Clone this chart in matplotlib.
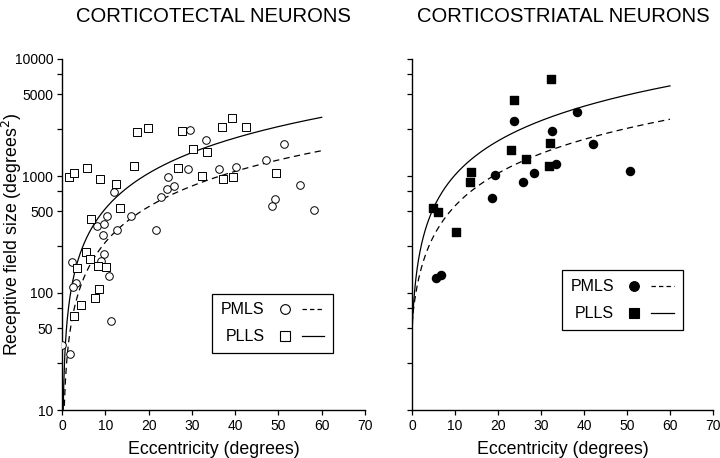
"""Receptive field size vs eccentricity, corticotectal / corticostriatal neurons."""

import matplotlib
matplotlib.use("Agg")
import matplotlib.pyplot as plt
import numpy as np
from matplotlib.legend_handler import HandlerTuple
from matplotlib.lines import Line2D
from matplotlib.ticker import FixedLocator, NullFormatter, FixedFormatter

plt.rcParams["font.family"] = ["Liberation Sans", "DejaVu Sans"]
NARROW = ["Liberation Sans Narrow", "Liberation Sans", "DejaVu Sans"]

# corticotectal, PMLS (open circles)
ct_pmls_x = [12.0, 24.6, 24.2, 25.9, 22.9, 10.5, 16.0, 8.0, 9.6, 9.5, 12.6, 21.7, 9.6, 9.0, 2.3, 10.8,
             3.2, 2.5, 11.3, 0.1, 1.9, 29.5, 33.2, 29.0, 36.3, 40.2, 47.1, 51.3, 54.9, 49.3, 48.4, 58.2]
ct_pmls_y = [726, 975, 769, 816, 665, 453, 453, 374, 389, 311, 345, 345, 215, 188, 184, 140,
             122, 113, 58, 36, 30, 2490, 2032, 1156, 1141, 1186, 1362, 1866, 838, 636, 557, 515]
# corticotectal, PLLS (open squares)
ct_plls_x = [1.7, 2.7, 5.8, 8.7, 12.5, 17.3, 19.8, 16.7, 27.7, 26.9, 13.3, 6.6, 5.6, 6.5, 3.5,
             8.3, 10.2, 8.6, 7.7, 4.5, 2.7, 37.0, 39.2, 42.6, 30.3, 33.4, 32.4, 37.1, 39.5, 49.5]
ct_plls_y = [986, 1054, 1178, 937, 855, 2366, 2572, 1216, 2411, 1178, 531, 428, 223, 194, 163,
             171, 167, 108, 91, 79, 64, 2637, 3133, 2609, 1703, 1596, 1007, 937, 976, 1067]

# corticostriatal, PMLS (filled circles)
cs_pmls_x = [23.7, 32.6, 19.3, 18.7, 25.8, 28.3, 33.5, 5.6, 6.8, 38.4, 42.0, 50.8]
cs_pmls_y = [2951, 2411, 1026, 653, 883, 1062, 1259, 134, 143, 3500, 1888, 1096]
# corticostriatal, PLLS (filled squares)
cs_plls_x = [23.7, 32.3, 13.8, 13.6, 23.1, 26.4, 32.2, 31.8, 4.9, 6.1, 10.2]
cs_plls_y = [4467, 6800, 1081, 893, 1660, 1406, 1915, 1225, 530, 490, 332]

# regression lines (intercept, slope)
ct_pmls_fit = (-4.0, 27.5)
ct_plls_fit = (-5.0, 53.0)
cs_pmls_fit = (55.0, 50.0)
cs_plls_fit = (45.0, 97.5)

y_ticks = [10, 25, 50, 75, 100, 250, 500, 750, 1000, 2500, 5000, 7500, 10000]
y_labels = ["10", "", "50", "", "100", "", "500", "", "1000", "", "5000", "", "10000"]
x_ticks = [0, 10, 20, 30, 40, 50, 60, 70]


def _fit_line(ax, fit, ls):
    a, b = fit
    x = np.linspace(0, 60, 600)
    y = a + b * x
    keep = y > 0
    ax.plot(x[keep], y[keep], color="black", linewidth=0.9, linestyle=ls)


def _style(ax, show_labels):
    ax.set_yscale("log")
    ax.set_xlim(0, 70)
    ax.set_ylim(10, 10000)
    for side in ("top", "right"):
        ax.spines[side].set_visible(False)
    ax.spines["left"].set_linewidth(1.0)
    ax.spines["bottom"].set_linewidth(1.0)
    ax.yaxis.set_major_locator(FixedLocator(y_ticks))
    ax.yaxis.set_minor_locator(FixedLocator([]))
    if show_labels:
        ax.yaxis.set_major_formatter(FixedFormatter(y_labels))
    else:
        ax.yaxis.set_major_formatter(NullFormatter())
    ax.yaxis.set_minor_formatter(NullFormatter())
    ax.set_xticks(x_ticks)
    ax.tick_params(direction="out", length=3.8, width=0.9, labelsize=10, pad=2.5)
    for lab in ax.get_xticklabels() + ax.get_yticklabels():
        lab.set_family(NARROW)
    ax.set_xlabel("Eccentricity (degrees)", fontsize=12.8, labelpad=6)


fig = plt.figure(figsize=(7.2, 4.58), dpi=100)
ax1 = fig.add_axes([62 / 720, 48 / 458, 303 / 720, 351 / 458])
ax2 = fig.add_axes([412 / 720, 48 / 458, 301 / 720, 351 / 458])

# left panel
ax1.scatter(ct_pmls_x, ct_pmls_y, s=30, marker="o", facecolors="white", edgecolors="black", linewidths=0.7, zorder=3)
ax1.scatter(ct_plls_x, ct_plls_y, s=26, marker="s", facecolors="white", edgecolors="black", linewidths=0.7, zorder=3)
_fit_line(ax1, ct_pmls_fit, (0, (5, 3.5)))
_fit_line(ax1, ct_plls_fit, "-")
_style(ax1, True)

# right panel
ax2.scatter(cs_pmls_x, cs_pmls_y, s=34, marker="o", color="black", zorder=3)
ax2.scatter(cs_plls_x, cs_plls_y, s=30, marker="s", color="black", zorder=3)
_fit_line(ax2, cs_pmls_fit, (0, (5, 3.5)))
_fit_line(ax2, cs_plls_fit, "-")
_style(ax2, False)


def _legend(ax, filled, anchor):
    fc = "black" if filled else "white"
    m1 = Line2D([], [], marker="o", linestyle="none", markersize=7, markerfacecolor=fc, markeredgecolor="black", markeredgewidth=0.8)
    m2 = Line2D([], [], marker="s", linestyle="none", markersize=6.5, markerfacecolor=fc, markeredgecolor="black", markeredgewidth=0.8)
    l1 = Line2D([], [], color="black", linewidth=0.9, linestyle=(0, (3.5, 2.5)))
    l2 = Line2D([], [], color="black", linewidth=0.9)
    leg = ax.legend([(m1, l1), (m2, l2)], ["PMLS", "PLLS"], handler_map={tuple: HandlerTuple(ndivide=None, pad=0.35)},
                    markerfirst=False, handlelength=3.2, loc="lower left", bbox_to_anchor=anchor,
                    fancybox=False, edgecolor="black", framealpha=1, borderpad=0.55,
                    labelspacing=0.75, handletextpad=0.55, borderaxespad=0,
                    prop={"family": NARROW, "size": 11.5})
    leg.get_frame().set_linewidth(0.9)


_legend(ax1, False, (0.495, 0.162))
_legend(ax2, True, (0.497, 0.228))

fig.text(213.5 / 720, 1 - 16 / 458, "CORTICOTECTAL NEURONS", ha="center", va="center", fontsize=14.6)
fig.text(563 / 720, 1 - 16 / 458, "CORTICOSTRIATAL NEURONS", ha="center", va="center", fontsize=14.6)
fig.text(12 / 720, 1 - 234.5 / 458, "Receptive field size (degrees$^2$)", rotation=90, ha="center", va="center", fontsize=12.8)

fig.savefig("out.png", dpi=100)
